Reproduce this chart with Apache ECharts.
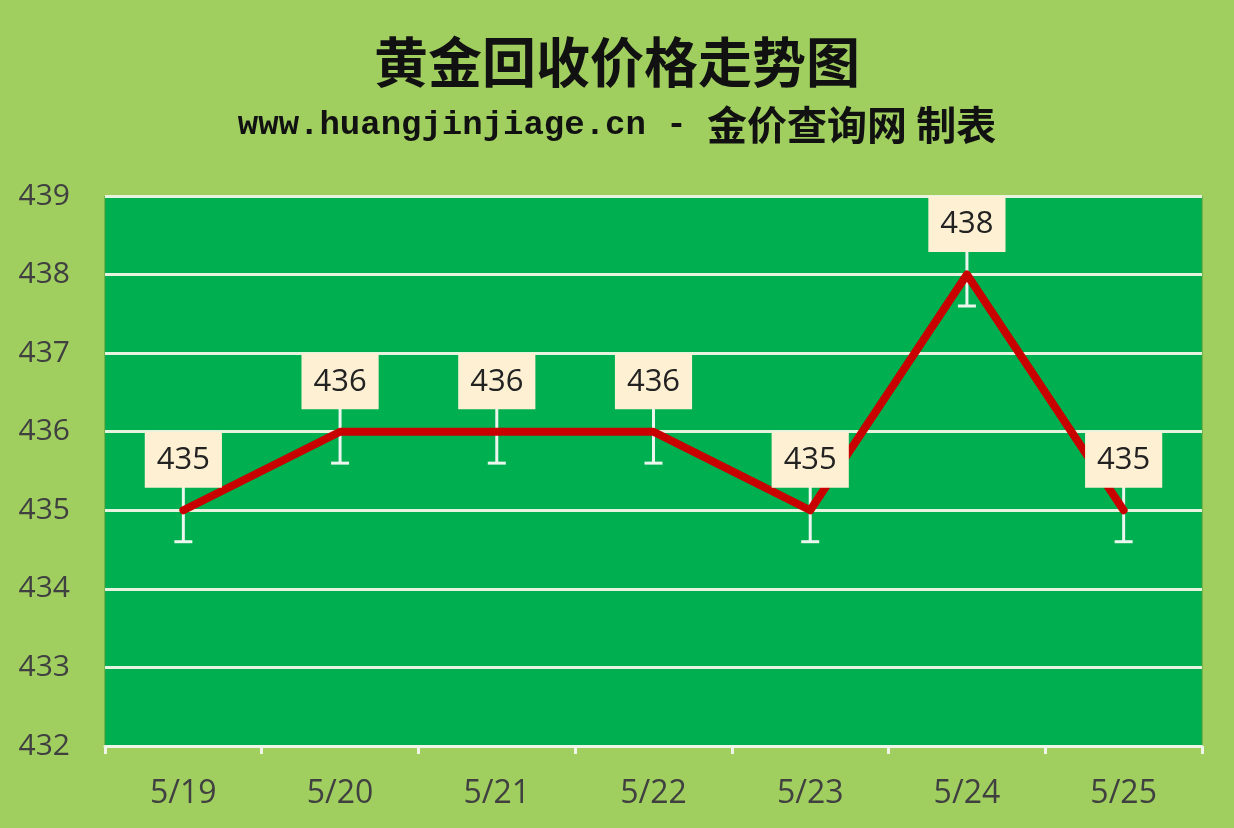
<!DOCTYPE html>
<html><head><meta charset="utf-8">
<script src="https://cdn.jsdelivr.net/npm/echarts@6/dist/echarts.min.js"></script>
<style>html,body{margin:0;padding:0;background:#A0CF60;}#c{width:1234px;height:828px;}</style>
</head><body><div id="c"></div>
<script>
const categories = ['5/19','5/20','5/21','5/22','5/23','5/24','5/25'];
const prices = [435, 436, 436, 436, 435, 438, 435];
const errorSize = 0.4;
const titleText = '黄金回收价格走势图';
const subUrl = 'www.huangjinjiage.cn - ';
const subCn = '金价查询网 制表';

const errData = prices.map((v, i) => [i, v - errorSize, v + errorSize]);

const chart = echarts.init(document.getElementById('c'));
chart.setOption({
  backgroundColor: '#A0CF60',
  animation: false,
  title: [{
    text: titleText,
    left: 'center', top: 30,
    textStyle: { fontFamily: 'Noto Sans CJK SC', fontWeight: 'bold', fontSize: 54, color: '#111' }
  }, {
    text: '{a|' + subUrl + '}{b|' + subCn + '}',
    left: 'center', top: 100,
    textStyle: {
      rich: {
        a: { fontFamily: 'Liberation Mono', fontWeight: 'bold', fontSize: 34, color: '#111' },
        b: { fontFamily: 'Noto Sans CJK SC', fontWeight: 'bold', fontSize: 40, color: '#111' }
      }
    }
  }],
  grid: {
    left: 105, right: 32, top: 196, bottom: 82,
    show: true, backgroundColor: '#00AF4F', borderColor: '#3E9E3A', borderWidth: 1
  },
  xAxis: {
    type: 'category', data: categories, boundaryGap: true,
    axisLine: { lineStyle: { color: '#EEF5E8', width: 3 } },
    axisTick: { show: true, length: 8, lineStyle: { color: '#EEF5E8', width: 3 } },
    axisLabel: { fontFamily: 'Open Sans', fontSize: 32, color: '#404040', margin: 32 }
  },
  yAxis: {
    type: 'value', min: 432, max: 439, interval: 1,
    axisLine: { show: false }, axisTick: { show: false },
    axisLabel: { fontFamily: 'Open Sans', fontSize: 30, color: '#404040', margin: 35 },
    splitLine: { lineStyle: { color: '#E6F3DE', width: 3 } }
  },
  series: [{
    type: 'custom', z: 1,
    data: errData,
    renderItem: function (params, api) {
      const x = api.coord([api.value(0), api.value(1)])[0];
      const lo = api.coord([api.value(0), api.value(1)])[1];
      const hi = api.coord([api.value(0), api.value(2)])[1];
      const st = { stroke: '#EAF6EE', lineWidth: 3 };
      return { type: 'group', children: [
        { type: 'line', shape: { x1: x, y1: hi, x2: x, y2: lo }, style: st },
        { type: 'line', shape: { x1: x - 9, y1: lo, x2: x + 9, y2: lo }, style: st },
        { type: 'line', shape: { x1: x - 9, y1: hi, x2: x + 9, y2: hi }, style: st }
      ]};
    }
  }, {
    type: 'line', z: 3,
    data: prices,
    symbol: 'circle', symbolSize: 1,
    itemStyle: { color: '#C80000' },
    lineStyle: { color: '#C80000', width: 8, join: 'round', cap: 'round' },
    label: {
      show: true, position: 'top', distance: 22,
      fontFamily: 'Open Sans', fontSize: 31, color: '#222',
      backgroundColor: '#FDF0D3', padding: [11, 12, 10, 12], lineHeight: 35
    }
  }]
});
</script></body></html>
